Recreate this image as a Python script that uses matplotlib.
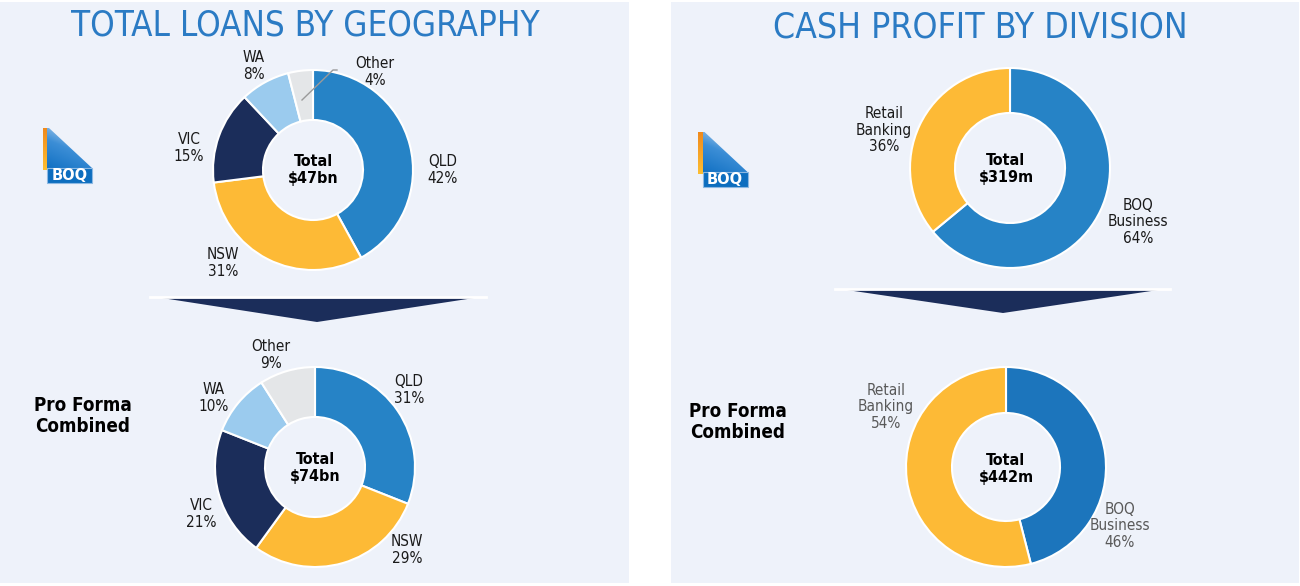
import numpy as np
import matplotlib
matplotlib.use("Agg")
import matplotlib.pyplot as plt
from matplotlib import font_manager
from matplotlib.patches import Rectangle, Polygon

W, H = 1300, 586

# ---- data ----
geo_labels = ["QLD", "NSW", "VIC", "WA", "Other"]
geo_now = [42, 31, 15, 8, 4]
geo_combined = [31, 29, 21, 10, 9]
geo_colors = ["#2683C6", "#FDBA36", "#1B2D5A", "#9BCBEE", "#E4E6E8"]

div_labels = ["BOQ\nBusiness", "Retail\nBanking"]
div_now = [64, 36]
div_combined = [46, 54]

loans_totals = ["$47bn", "$74bn"]
profit_totals = ["$319m", "$442m"]

# label positions in pixels (layout only)
geo_now_xy = [(443, 170), (223, 263), (189, 148), (254, 66), (375, 72)]
geo_comb_xy = [(409, 390), (407, 550), (201, 514), (214, 398), (271, 355)]
div_now_xy = [(1138, 222), (884, 130)]
div_comb_xy = [(1120, 526), (886, 407)]

# ---- fonts ----
ttf = font_manager.fontManager.ttflist
names = {f.name for f in ttf}
if "DejaVu Sans Condensed" in names:
    cond_kw = dict(family="DejaVu Sans Condensed")
elif any(f.name == "DejaVu Sans" and f.stretch == "condensed" for f in ttf):
    cond_kw = dict(family="DejaVu Sans", fontstretch="condensed")
elif "Liberation Sans Narrow" in names:
    cond_kw = dict(family="Liberation Sans Narrow")
else:
    cond_kw = dict(family="DejaVu Sans")

BG = "#EEF2FA"
TITLE_BLUE = "#2B7BC4"
NAVY = "#1B2D5A"

fig = plt.figure(figsize=(W / 100, H / 100), dpi=100)
fig.patch.set_facecolor("white")
ax = fig.add_axes([0, 0, 1, 1])


def py(y):
    return H - y


# panels
ax.add_patch(Rectangle((0, py(583)), 629, 581, facecolor=BG, edgecolor="none", zorder=0))
ax.add_patch(Rectangle((671, py(583)), 628, 581, facecolor=BG, edgecolor="none", zorder=0))

ax.text(305, py(36), "TOTAL LOANS BY GEOGRAPHY", color=TITLE_BLUE, fontsize=25,
        ha="center", va="baseline", **cond_kw)
ax.text(980, py(38), "CASH PROFIT BY DIVISION", color=TITLE_BLUE, fontsize=25.5,
        ha="center", va="baseline", **cond_kw)


def donut(values, colors, cx, cy, r_in):
    ax.pie(values, colors=colors, startangle=90, counterclock=False, radius=100,
           center=(cx, py(cy)), frame=True,
           wedgeprops=dict(width=100 - r_in, edgecolor="white", linewidth=1.5))


def labels(names_, values, xys, color="#1a1a1a"):
    for n, v, (x, y) in zip(names_, values, xys):
        ax.text(x, py(y), f"{n}\n{v}%", ha="center", va="center", multialignment="center",
                fontsize=11, color=color, linespacing=1.15, **cond_kw)


def centre(cx, cy, total):
    ax.text(cx, py(cy), f"Total\n{total}", ha="center", va="center", fontsize=11.5,
            fontweight="bold", color="black", linespacing=1.15, **cond_kw)


def chevron(x0, x1, xt, ytop, yapex):
    ax.add_patch(Polygon([(x0, py(ytop)), (x1, py(ytop)), (xt, py(yapex))], closed=True,
                         facecolor=NAVY, edgecolor="none", zorder=2))
    ax.plot([x0 - 12, x1 + 12], [py(ytop - 1), py(ytop - 1)], color="white", lw=2, zorder=3)


def logo(x0, y0):
    # orange bar
    bar = Rectangle((x0, py(y0 + 42)), 4.5, 42, facecolor="none", edgecolor="none")
    ax.add_patch(bar)
    grad = np.linspace(0, 1, 64).reshape(-1, 1)
    ocmap = matplotlib.colors.LinearSegmentedColormap.from_list("o", ["#F08A1C", "#FDBE32"])
    ax.imshow(grad, cmap=ocmap, extent=(x0, x0 + 4.5, py(y0 + 42), py(y0)), aspect="auto",
              clip_path=bar, zorder=3)
    # blue wedge with gradient
    bx = x0 + 4.5
    poly = Polygon([(bx, py(y0)), (bx + 2, py(y0)), (bx + 45, py(y0 + 40)), (bx + 45, py(y0 + 55)),
                    (bx, py(y0 + 55))], closed=True, facecolor="none", edgecolor="none")
    ax.add_patch(poly)
    xx, yy = np.meshgrid(np.linspace(0, 1, 80), np.linspace(0, 1, 80))
    g = np.clip(0.85 * (1 - yy) + 0.3 * xx - 0.2, 0, 1)
    cmap = matplotlib.colors.LinearSegmentedColormap.from_list("b", ["#0F6FC2", "#3C8ED6", "#D2E4F5"])
    im = ax.imshow(g, cmap=cmap, extent=(bx, bx + 45, py(y0 + 55), py(y0)), aspect="auto", zorder=3,
                   origin="upper")
    im.set_clip_path(poly)
    ax.add_patch(Rectangle((bx, py(y0 + 55)), 45, 15, facecolor="#0D6EBF", edgecolor="#8DB9E3",
                           lw=0.8, zorder=4))
    ax.text(bx + 22.5, py(y0 + 47.5), "BOQ", color="white", fontsize=10.5, fontweight="bold",
            ha="center", va="center", zorder=5, family="DejaVu Sans")


# left panel
donut(geo_now, geo_colors, 313, 170, 50)
labels(geo_labels, geo_now, geo_now_xy)
centre(313, 170, loans_totals[0])
ax.plot([302, 333, 337], [py(100), py(70), py(70)], color="#9a9a9a", lw=1, zorder=5)
chevron(162, 474, 317, 298, 322)
donut(geo_combined, geo_colors, 315, 467, 50)
labels(geo_labels, geo_combined, geo_comb_xy)
centre(315, 468, loans_totals[1])
ax.text(83, py(416), "Pro Forma\nCombined", ha="center", va="center", fontsize=13.5,
        fontweight="bold", color="black", linespacing=1.1, **cond_kw)
logo(42.5, 128)

# right panel
donut(div_now, ["#2683C6", "#FDBA36"], 1010, 168, 55)
labels(div_labels, div_now, div_now_xy)
centre(1006, 169, profit_totals[0])
chevron(847, 1158, 1003, 290, 313)
donut(div_combined, ["#1C75BC", "#FDBA36"], 1006, 467, 54)
labels(div_labels, div_combined, div_comb_xy, color="#595959")
centre(1006, 469, profit_totals[1])
ax.text(738, py(422), "Pro Forma\nCombined", ha="center", va="center", fontsize=13.5,
        fontweight="bold", color="black", linespacing=1.1, **cond_kw)
logo(698, 132)

ax.set_xlim(0, W)
ax.set_ylim(0, H)
ax.set_aspect("auto")
ax.axis("off")

fig.savefig("out.png", dpi=100, facecolor="white")
